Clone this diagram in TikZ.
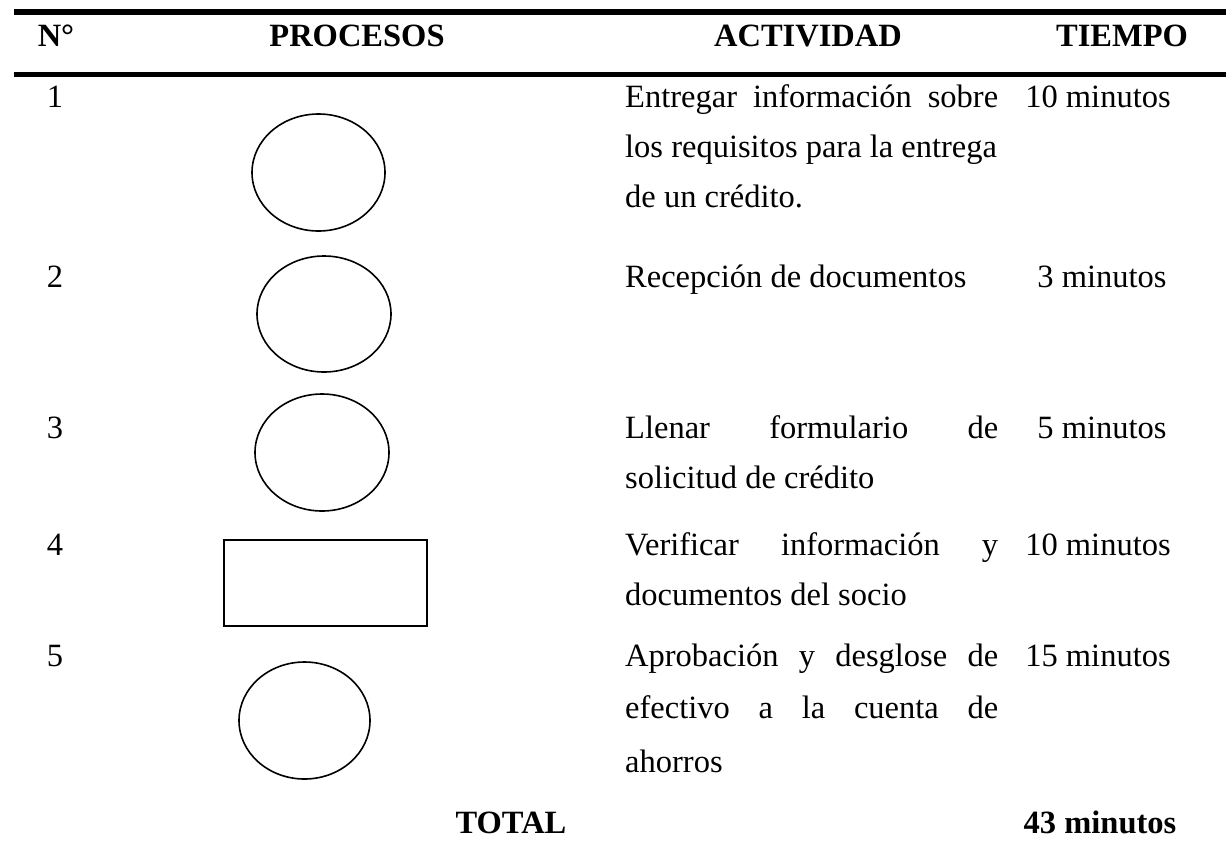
\documentclass[tikz,border=0pt]{standalone}
\usepackage{fontspec}
\setmainfont{Liberation Serif}
\usetikzlibrary{shapes.geometric}
\begin{document}
\begin{tikzpicture}[x=1pt,y=-1pt,
  rule/.style={line width=5.7pt},
  shp/.style={draw,line width=1.6pt,inner sep=0pt},
  body/.style={inner sep=0pt,font=\fontsize{32.5}{40}\selectfont},
  txt/.style={body,anchor=base west},
  ctr/.style={body,anchor=base},
  hd/.style={body,anchor=base,font=\fontsize{32.5}{40}\selectfont\bfseries}]
\useasboundingbox (0,0) rectangle (1226,855);
% rules
\coordinate (ra) at (14,12); \coordinate (rb) at (1226,12);
\coordinate (sa) at (14,74.5); \coordinate (sb) at (1226,74.5);
\draw[rule] (ra) -- (rb);
\draw[rule] (sa) -- (sb);
% header
\node[hd] (hn) at (56,46) {N°};
\node[hd] (hp) at (357,46) {PROCESOS};
\node[hd] (ha) at (808,46) {ACTIVIDAD};
\node[hd] (ht) at (1122,46) {TIEMPO};
% numbers
\node[ctr] (n1) at (55,107) {1};
\node[ctr] (n2) at (55,287) {2};
\node[ctr] (n3) at (55,438) {3};
\node[ctr] (n4) at (55,555) {4};
\node[ctr] (n5) at (55,666) {5};
% shapes
\node[shp,ellipse,minimum width=133pt,minimum height=117pt] (c1) at (318.5,172.5) {};
\node[shp,ellipse,minimum width=134pt,minimum height=116pt] (c2) at (324,314) {};
\node[shp,ellipse,minimum width=134pt,minimum height=117pt] (c3) at (322,452.5) {};
\node[shp,rectangle,minimum width=203pt,minimum height=86pt] (rc) at (325.5,583) {};
\node[shp,ellipse,minimum width=131pt,minimum height=117pt] (c5) at (304.5,720.5) {};
% activities
\node[txt] (a1a) at (625,107) {\makebox[373pt][s]{Entregar información sobre}};
\node[txt] (a1b) at (625,157) {los requisitos para la entrega};
\node[txt] (a1c) at (625,207) {de un crédito.};
\node[txt] (a2a) at (625,287) {Recepción de documentos};
\node[txt] (a3a) at (625,438) {\makebox[373pt][s]{Llenar formulario de}};
\node[txt] (a3b) at (625,488) {solicitud de crédito};
\node[txt] (a4a) at (625,555) {\makebox[373pt][s]{Verificar información y}};
\node[txt] (a4b) at (625,605) {documentos del socio};
\node[txt] (a5a) at (625,666) {\makebox[373pt][s]{Aprobación y desglose de}};
\node[txt] (a5b) at (625,718) {\makebox[373pt][s]{efectivo a la cuenta de}};
\node[txt] (a5c) at (625,772) {ahorros};
% times
\node[ctr] (t1) at (1098,107) {10 minutos};
\node[ctr] (t2) at (1102,287) {3 minutos};
\node[ctr] (t3) at (1102,438) {5 minutos};
\node[ctr] (t4) at (1098,555) {10 minutos};
\node[ctr] (t5) at (1098,666) {15 minutos};
% total
\node[hd] (tt) at (511,833) {TOTAL};
\node[hd] (tm) at (1100,833) {43 minutos};
\end{tikzpicture}
\end{document}
